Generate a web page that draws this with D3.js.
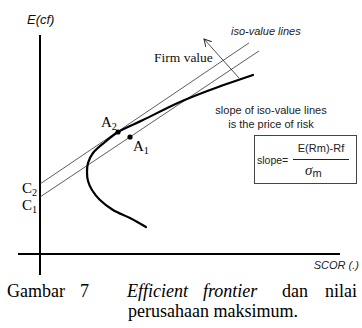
<!DOCTYPE html>
<html>
<head>
<meta charset="utf-8">
<script src="https://cdn.jsdelivr.net/npm/d3@7"></script>
<style>
  body { margin: 0; background: #fff; }
  .serif { font-family: 'Liberation Serif', 'Times New Roman', serif; }
  .sans { font-family: 'Liberation Sans', Arial, sans-serif; }
</style>
</head>
<body>
<div id="chart"></div>
<script>
// efficient frontier (risk, expected cash flow), bottom end -> top end
var frontierRisk = [10.6, 9.0, 7.3, 6.0, 5.2, 4.8, 4.7, 4.8, 5.3, 6.5, 7.8, 10.3, 14.0, 17.0, 21.3];
var frontierReturn = [2.7, 3.6, 4.4, 5.4, 6.4, 7.3, 8.2, 9.1, 10.1, 11.2, 12.2, 13.4, 15.2, 16.4, 17.9];

// iso-value lines: C2 (upper), C1 (lower)
var isoNames = ['C2', 'C1'];
var isoIntercept = [7.0, 5.7];
var isoSlope = [0.675, 0.667];
var isoEnd = [20.9, 21.9];

// tangency / crossing points
var pointNames = ['A2', 'A1'];
var pointRisk = [7.8, 9.0];
var pointReturn = [12.2, 11.7];

// firm value arrow (from -> to)
var arrowRisk = [19.9, 16.4];
var arrowReturn = [17.6, 21.5];

var w = 362;
var h = 328;

var svg = d3
  .select('#chart')
  .append('svg')
  .attr('width', w)
  .attr('height', h);

var x = d3.scaleLinear().domain([0, 30]).range([40, 340]);
var y = d3.scaleLinear().domain([0, 22]).range([254, 34]);

// arrow head
svg
  .append('defs')
  .append('marker')
  .attr('id', 'head')
  .attr('viewBox', '0 0 10 10')
  .attr('refX', 9)
  .attr('refY', 5)
  .attr('markerWidth', 8)
  .attr('markerHeight', 8)
  .attr('markerUnits', 'userSpaceOnUse')
  .attr('orient', 'auto')
  .append('path')
  .attr('d', 'M0,0 L9,5 L0,10')
  .attr('fill', 'none')
  .attr('stroke', '#222')
  .attr('stroke-width', 1.2);

// axes
svg
  .append('line')
  .attr('x1', x(0))
  .attr('y1', y(21.9))
  .attr('x2', x(0))
  .attr('y2', y(-2.1))
  .attr('stroke', '#000')
  .attr('stroke-width', 2);
svg
  .append('line')
  .attr('x1', x(-2.2))
  .attr('y1', y(0))
  .attr('x2', x(30))
  .attr('y2', y(0))
  .attr('stroke', '#000')
  .attr('stroke-width', 2);

// iso-value lines
var gi = svg.append('g');
isoNames.forEach(function (n, i) {
  gi.append('line')
    .attr('x1', x(0))
    .attr('y1', y(isoIntercept[i]))
    .attr('x2', x(isoEnd[i]))
    .attr('y2', y(isoIntercept[i] + isoSlope[i] * isoEnd[i]))
    .attr('stroke', '#333')
    .attr('stroke-width', 0.8);
});

// arrow
svg
  .append('line')
  .attr('x1', x(arrowRisk[0]))
  .attr('y1', y(arrowReturn[0]))
  .attr('x2', x(arrowRisk[1]))
  .attr('y2', y(arrowReturn[1]))
  .attr('stroke', '#222')
  .attr('stroke-width', 0.8)
  .attr('marker-end', 'url(#head)');

// frontier
var line = d3
  .line()
  .x(function (d, i) { return x(frontierRisk[i]); })
  .y(function (d, i) { return y(frontierReturn[i]); })
  .curve(d3.curveCatmullRom.alpha(0.5));
svg
  .append('path')
  .attr('d', line(frontierRisk))
  .attr('fill', 'none')
  .attr('stroke', '#000')
  .attr('stroke-width', 2.2)
  .attr('stroke-linecap', 'round');

// points
pointNames.forEach(function (n, i) {
  svg
    .append('circle')
    .attr('cx', x(pointRisk[i]))
    .attr('cy', y(pointReturn[i]))
    .attr('r', 2.6)
    .attr('fill', '#000');
});

// labels: points
function subLabel(tx, ty, main, sub, size) {
  var t = svg
    .append('text')
    .attr('class', 'serif')
    .attr('x', tx)
    .attr('y', ty)
    .attr('font-size', size)
    .attr('fill', '#000');
  t.append('tspan').text(main);
  t.append('tspan')
    .attr('font-size', size * 0.68)
    .attr('dy', 3)
    .text(sub);
}
subLabel(101, 127, 'A', '2', 15);
subLabel(133, 151, 'A', '1', 15);
subLabel(22, 193, 'C', '2', 15);
subLabel(22, 210, 'C', '1', 15);

// axis titles
svg
  .append('text')
  .attr('class', 'sans')
  .attr('x', 27)
  .attr('y', 24)
  .attr('font-size', 13)
  .attr('font-style', 'italic')
  .attr('fill', '#111')
  .text('E(cf)');
svg
  .append('text')
  .attr('class', 'sans')
  .attr('x', 359)
  .attr('y', 269)
  .attr('text-anchor', 'end')
  .attr('font-size', 11)
  .attr('font-style', 'italic')
  .attr('fill', '#222')
  .text('SCOR (.)');

// annotations
svg
  .append('text')
  .attr('class', 'sans')
  .attr('x', 231)
  .attr('y', 35)
  .attr('font-size', 11)
  .attr('font-style', 'italic')
  .attr('fill', '#222')
  .text('iso-value lines');
svg
  .append('text')
  .attr('class', 'serif')
  .attr('x', 154)
  .attr('y', 62)
  .attr('font-size', 13.5)
  .attr('fill', '#111')
  .text('Firm value');
svg
  .append('text')
  .attr('class', 'sans')
  .attr('x', 271)
  .attr('y', 114)
  .attr('text-anchor', 'middle')
  .attr('font-size', 11)
  .attr('fill', '#222')
  .text('slope of iso-value lines');
svg
  .append('text')
  .attr('class', 'sans')
  .attr('x', 271)
  .attr('y', 128)
  .attr('text-anchor', 'middle')
  .attr('font-size', 11)
  .attr('fill', '#222')
  .text('is the price of risk');

// formula box
svg
  .append('rect')
  .attr('x', 254.5)
  .attr('y', 135.5)
  .attr('width', 102)
  .attr('height', 48)
  .attr('fill', '#fff')
  .attr('stroke', '#444')
  .attr('stroke-width', 1);
svg
  .append('text')
  .attr('class', 'sans')
  .attr('x', 257)
  .attr('y', 164)
  .attr('font-size', 10.5)
  .attr('fill', '#222')
  .text('slope=');
svg
  .append('text')
  .attr('class', 'sans')
  .attr('x', 321)
  .attr('y', 152)
  .attr('text-anchor', 'middle')
  .attr('font-size', 11)
  .attr('fill', '#222')
  .text('E(Rm)-Rf');
svg
  .append('line')
  .attr('x1', 293)
  .attr('y1', 159.5)
  .attr('x2', 349)
  .attr('y2', 159.5)
  .attr('stroke', '#222')
  .attr('stroke-width', 1);
var den = svg
  .append('text')
  .attr('class', 'serif')
  .attr('x', 305)
  .attr('y', 175)
  .attr('font-size', 15)
  .attr('font-style', 'italic')
  .attr('fill', '#222');
den.append('tspan').text('σ');
den.append('tspan')
  .attr('class', 'sans')
  .attr('font-style', 'normal')
  .attr('font-size', 11)
  .attr('dy', 2)
  .text('m');

// caption (justified first line)
var capWords = ['Gambar', '7', 'Efficient', 'frontier', 'dan', 'nilai'];
var capX = [7, 80, 127, 203, 282, 325];
var capItalic = [false, false, true, true, false, false];
capWords.forEach(function (c, i) {
  svg
    .append('text')
    .attr('class', 'serif')
    .attr('x', capX[i])
    .attr('y', 297)
    .attr('font-size', 18)
    .attr('font-style', capItalic[i] ? 'italic' : 'normal')
    .text(c);
});
svg
  .append('text')
  .attr('class', 'serif')
  .attr('x', 128)
  .attr('y', 317)
  .attr('font-size', 18)
  .text('perusahaan maksimum.');
</script>
</body>
</html>
